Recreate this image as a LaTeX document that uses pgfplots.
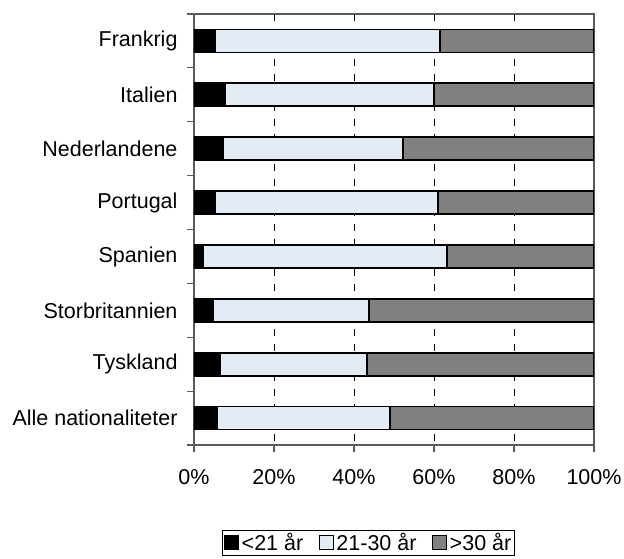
\documentclass[border=0pt]{standalone}
\usepackage{fontspec}
\setmainfont{Liberation Sans}
\usepackage{pgfplots}
\pgfplotsset{compat=1.18}
\definecolor{lys}{RGB}{227,235,244}
\definecolor{mgraa}{RGB}{128,128,128}
\definecolor{akse}{RGB}{90,90,90}

\begin{document}
\begin{tikzpicture}[font=\fontsize{21.5}{26}\selectfont]
\useasboundingbox (0,0) rectangle (624pt,558pt);
\begin{axis}[
    at={(194pt,113pt)}, anchor=south west,
    width=400pt, height=431pt, scale only axis,
    xbar stacked, bar width=23pt,
    xmin=0, xmax=100, ymin=-0.5, ymax=7.5, y dir=reverse,
    xtick={0,20,40,60,80,100},
    xticklabels={0\%,20\%,40\%,60\%,80\%,100\%},
    xticklabel style={yshift=-14pt},
    ytick={-0.5,0.5,1.5,2.5,3.5,4.5,5.5,6.5,7.5},
    yticklabels={,,,,,,,,,},
    extra y ticks={0,1,2,3,4,5,6,7},
    extra y tick labels={Frankrig,Italien,Nederlandene,Portugal,Spanien,Storbritannien,Tyskland,Alle nationaliteter},
    extra y tick style={tick style={draw=none}, yticklabel style={xshift=-6pt}},
    xtick pos=bottom, ytick pos=left,
    tick align=outside, major tick length=7pt,
    tick style={akse, line width=1.2pt},
    xmajorgrids,
    major grid style={black, line width=0.9pt, dash pattern=on 7pt off 8pt},
    axis line style={akse, line width=1.4pt},
    every axis plot post/.append style={
        legend image code/.code={\draw[##1, line width=1.2pt] (0pt,-7pt) rectangle (14pt,7pt);}},
    legend style={at={(0.436,-0.227)}, anchor=center, legend columns=-1,
        draw=black, line width=0.8pt, inner sep=2pt,
        nodes={inner sep=1.5pt},
        /tikz/every odd column/.append style={column sep=1pt},
        /tikz/every even column/.append style={column sep=14pt}},
]
\addplot[fill=black, draw=black, line width=1.8pt] coordinates {
    (5.3,0) (7.8,1) (7.3,2) (5.3,3) (2.2,4) (4.8,5) (6.5,6) (5.9,7)};
\addplot[fill=lys, draw=black, line width=1.8pt] coordinates {
    (56.2,0) (52.1,1) (45.0,2) (55.6,3) (61.1,4) (38.9,5) (36.8,6) (43.1,7)};
\addplot[fill=mgraa, draw=black, line width=1.8pt] coordinates {
    (38.5,0) (40.1,1) (47.7,2) (39.1,3) (36.7,4) (56.3,5) (56.7,6) (51.0,7)};
\legend{<21 år,21-30 år,>30 år}
\end{axis}
\end{tikzpicture}
\end{document}
